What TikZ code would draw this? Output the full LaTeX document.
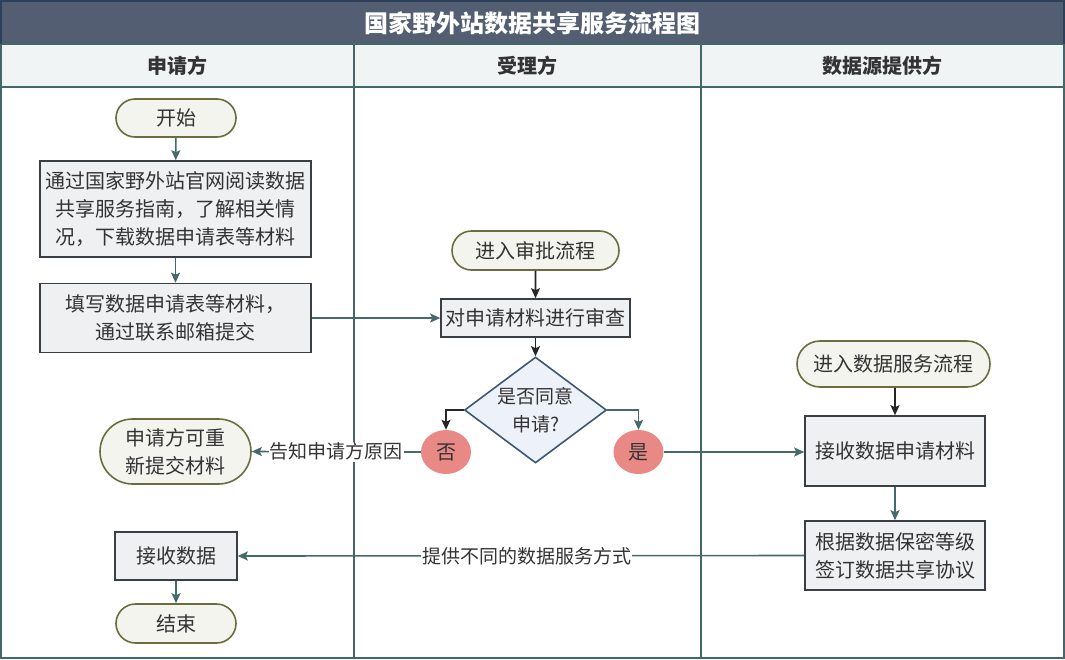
\documentclass[tikz,border=0pt]{standalone}
\usepackage{fontspec}
\setmainfont{Noto Sans CJK SC}
\usetikzlibrary{shapes.geometric,shapes.misc,arrows.meta}
\definecolor{titlebg}{HTML}{535E73}
\definecolor{headbg}{HTML}{F0F4F4}
\definecolor{lanec}{HTML}{44676A}
\definecolor{tealc}{HTML}{456A6C}
\definecolor{pillfill}{HTML}{F3F4EE}
\definecolor{pilldraw}{HTML}{6B6C40}
\definecolor{boxfill}{HTML}{EFF0F2}
\definecolor{boxdraw}{HTML}{3A3E45}
\definecolor{dfill}{HTML}{EDF1F9}
\definecolor{ddraw}{HTML}{3E5873}
\definecolor{yncol}{HTML}{E88985}
\definecolor{txt}{HTML}{333333}
\definecolor{framec}{HTML}{2E3F5A}
\begin{document}
\begin{tikzpicture}[x=1pt,y=-1pt,
  every node/.style={text=txt, font=\fontsize{20}{28}\selectfont},
  pill/.style={rounded rectangle, draw=pilldraw, fill=pillfill, line width=1.6pt, inner sep=0pt, align=center},
  proc/.style={rectangle, draw=boxdraw, fill=boxfill, line width=1.6pt, inner sep=0pt, align=center},
  yn/.style={ellipse, fill=yncol, inner sep=0pt, minimum width=50pt, minimum height=44pt},
  tarrow/.style={draw=tealc, line width=1.6pt, -{Stealth[length=10pt,width=9pt,inset=2pt]}},
  karrow/.style={draw=black!85, line width=1.6pt, -{Stealth[length=10pt,width=9pt,inset=2pt]}},
  lbl/.style={fill=white, inner sep=1pt, font=\fontsize{19}{24}\selectfont},
  headtxt/.style={font=\fontsize{20}{24}\selectfont\bfseries, text=txt}
]
\useasboundingbox (0,0) rectangle (1065,659);
% frame
\fill[titlebg] (0,0) rectangle (1065,44);
\fill[headbg] (0,44) rectangle (1065,87);
\draw[lanec, line width=1.6pt] (0,44) -- (1065,44);
\draw[lanec, line width=1.6pt] (0,87) -- (1065,87);
\draw[lanec, line width=1.6pt] (354,44) -- (354,659);
\draw[lanec, line width=1.6pt] (701,44) -- (701,659);
\draw[lanec, line width=1.6pt] (0.8,44) -- (0.8,658.2) -- (1064.2,658.2) -- (1064.2,44);
\draw[framec, line width=1.6pt] (0.8,44) -- (0.8,0.8) -- (1064.2,0.8) -- (1064.2,44);
\node[font=\fontsize{24}{28}\selectfont\bfseries, text=white] (title) at (532.5,23) {国家野外站数据共享服务流程图};
\node[headtxt] (h1) at (177,66) {申请方};
\node[headtxt] (h2) at (527,66) {受理方};
\node[headtxt] (h3) at (882,66) {数据源提供方};
% nodes
\node[pill, minimum width=120pt, minimum height=38pt] (start) at (176,118) {开始};
\node[proc, minimum width=271pt, minimum height=96pt] (read) at (175.5,209) {通过国家野外站官网阅读数据\\共享服务指南，了解相关情\\况，下载数据申请表等材料};
\node[proc, minimum width=271pt, minimum height=69pt] (fill) at (175.5,318) {填写数据申请表等材料，\\通过联系邮箱提交};
\node[pill, minimum width=167pt, minimum height=39pt] (enter) at (535.5,250.5) {进入审批流程};
\node[proc, minimum width=189pt, minimum height=38pt] (review) at (535.5,318) {对申请材料进行审查};
\node[diamond, draw=ddraw, fill=dfill, line width=1.6pt, inner sep=0pt, minimum width=142pt, minimum height=106pt,
  label={[align=center, text=txt, font=\fontsize{19}{28}\selectfont]center:是否同意\\申请?}] (dec) at (535.5,410) {};
\node[yn] (no) at (446,452) {否};
\node[yn] (yes) at (638.5,452) {是};
\node[pill, minimum width=151pt, minimum height=65pt] (resub) at (175.5,451.5) {申请方可重\\新提交材料};
\node[proc, minimum width=122pt, minimum height=48pt] (recv) at (176,556) {接收数据};
\node[pill, minimum width=120pt, minimum height=39pt] (end) at (176,623.5) {结束};
\node[pill, minimum width=193pt, minimum height=46pt] (enter2) at (893.5,364) {进入数据服务流程};
\node[proc, minimum width=180pt, minimum height=70pt] (recvapp) at (895,451) {接收数据申请材料};
\node[proc, minimum width=180pt, minimum height=69pt] (agree) at (895,555.5) {根据数据保密等级\\签订数据共享协议};
% connectors
\draw[tarrow] (start) -- (read);
\draw[tarrow] (read) -- (fill);
\draw[tarrow] (fill.east) -- (review.west);
\draw[karrow] (enter) -- (review);
\draw[karrow] (review) -- (dec);
\draw[karrow] (dec.west) -| (no.north);
\draw[tarrow] (dec.east) -| (yes.north);
\draw[tarrow] (no.west) -- node[lbl] (lno) {告知申请方原因} (resub.east);
\draw[tarrow] (yes.east) -- (recvapp.west |- yes.east);
\draw[karrow] (enter2.south -| recvapp.north) -- (recvapp.north);
\draw[tarrow] (recvapp) -- (agree);
\draw[tarrow] (agree.west) -- node[lbl, pos=0.49] (lprov) {提供不同的数据服务方式} (recv.east);
\draw[tarrow] (recv) -- (end);
\end{tikzpicture}
\end{document}
